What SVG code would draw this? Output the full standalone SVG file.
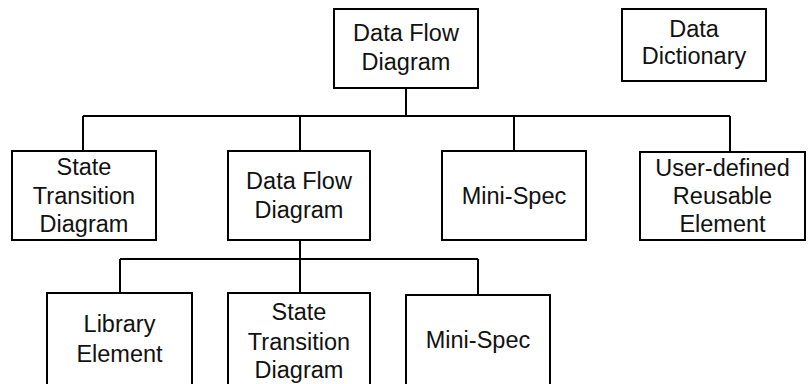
<svg xmlns="http://www.w3.org/2000/svg" width="809" height="384" viewBox="0 0 809 384">
  <style>
    .box { fill: #ffffff; stroke: #000000; stroke-width: 2; }
    .wire { fill: none; stroke: #000000; stroke-width: 2; }
    .lbl { font-family: "Liberation Sans", Arial, sans-serif; font-size: 23.5px; fill: #111111; text-anchor: middle; }
  </style>
  <rect width="809" height="384" fill="#ffffff"/>

  <!-- tree connectors -->
  <g id="connectors">
    <path class="wire" d="M406 88 V116 M83 116 H730 M83 116 V151 M300 116 V151 M514 116 V151 M730 116 V152"/>
    <path class="wire" d="M300 240 V259 M120 259 H478 M120 259 V293 M300 259 V293 M478 259 V295"/>
  </g>

  <g id="dfd-top">
    <rect class="box" x="334" y="9" width="144" height="79"/>
    <text class="lbl" x="406" y="41">Data Flow</text>
    <text class="lbl" x="406" y="70">Diagram</text>
  </g>

  <g id="data-dictionary">
    <rect class="box" x="622" y="9" width="144" height="72"/>
    <text class="lbl" x="694" y="37">Data</text>
    <text class="lbl" x="694" y="64">Dictionary</text>
  </g>

  <g id="std-mid">
    <rect class="box" x="12" y="151" width="144" height="89"/>
    <text class="lbl" x="84" y="175">State</text>
    <text class="lbl" x="84" y="204">Transition</text>
    <text class="lbl" x="84" y="232">Diagram</text>
  </g>

  <g id="dfd-mid">
    <rect class="box" x="228" y="151" width="142" height="89"/>
    <text class="lbl" x="299" y="189">Data Flow</text>
    <text class="lbl" x="299" y="218">Diagram</text>
  </g>

  <g id="minispec-mid">
    <rect class="box" x="442" y="151" width="144" height="89"/>
    <text class="lbl" x="514" y="204">Mini-Spec</text>
  </g>

  <g id="user-defined">
    <rect class="box" x="640" y="152" width="165" height="88"/>
    <text class="lbl" x="722.5" y="176">User-defined</text>
    <text class="lbl" x="722.5" y="204">Reusable</text>
    <text class="lbl" x="722.5" y="232">Element</text>
  </g>

  <g id="library-element">
    <rect class="box" x="47" y="293" width="145" height="100"/>
    <text class="lbl" x="119.5" y="332">Library</text>
    <text class="lbl" x="119.5" y="362">Element</text>
  </g>

  <g id="std-bottom">
    <rect class="box" x="228" y="293" width="142" height="100"/>
    <text class="lbl" x="299" y="320">State</text>
    <text class="lbl" x="299" y="350">Transition</text>
    <text class="lbl" x="299" y="378">Diagram</text>
  </g>

  <g id="minispec-bottom">
    <rect class="box" x="406" y="295" width="144" height="100"/>
    <text class="lbl" x="478" y="348">Mini-Spec</text>
  </g>
</svg>
